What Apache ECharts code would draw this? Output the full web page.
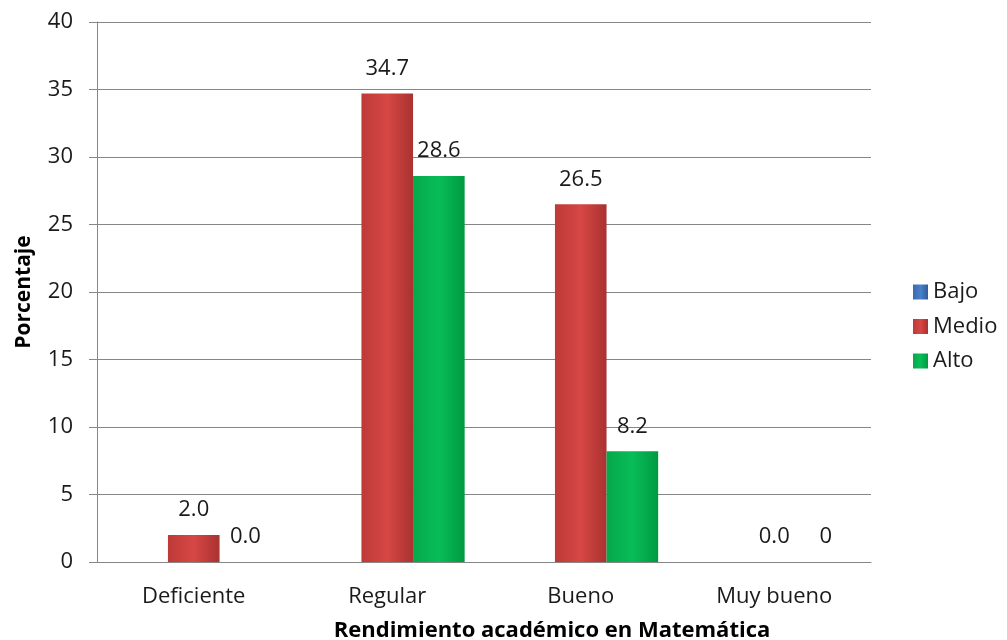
<!DOCTYPE html>
<html>
<head>
<meta charset="utf-8">
<script src="https://cdn.jsdelivr.net/npm/echarts@6/dist/echarts.min.js"></script>
<style>
html,body{margin:0;padding:0;background:#fff;}
#chart{width:1007px;height:640px;}
</style>
</head>
<body>
<div id="chart"></div>
<script>
const categories = ['Deficiente', 'Regular', 'Bueno', 'Muy bueno'];
const seriesNames = ['Bajo', 'Medio', 'Alto'];
const bajoValues = [null, null, null, null];
const medioValues = [2.0, 34.7, 26.5, 0.0];
const altoValues = [0.0, 28.6, 8.2, 0];
const medioLabels = ['2.0', '34.7', '26.5', '0.0'];
const altoLabels = ['0.0', '28.6', '8.2', '0'];
const yTicks = [0, 5, 10, 15, 20, 25, 30, 35, 40];

const FONT = 'Open Sans';

function grad(c1, c2, c3) {
  return new echarts.graphic.LinearGradient(0, 0, 1, 0, [
    {offset: 0, color: c1}, {offset: 0.5, color: c2}, {offset: 1, color: c3}
  ]);
}

const chart = echarts.init(document.getElementById('chart'), null, {renderer: 'canvas'});

const labelStyle = (texts) => ({
  show: true,
  position: 'top',
  distance: 14,
  fontFamily: FONT,
  fontSize: 22,
  color: '#1a1a1a',
  formatter: p => texts[p.dataIndex]
});

chart.setOption({
  animation: false,
  textStyle: {fontFamily: FONT},
  grid: {left: 97, right: 136, top: 22, bottom: 78, containLabel: false, outerBoundsMode: 'none'},
  legend: {
    orient: 'vertical',
    left: 913,
    top: 281,
    padding: 0,
    itemWidth: 15,
    itemHeight: 15,
    itemGap: 12.5,
    icon: 'rect',
    textStyle: {fontFamily: FONT, fontSize: 22, color: '#1a1a1a'},
    data: seriesNames
  },
  xAxis: {
    type: 'category',
    data: categories,
    name: 'Rendimiento académico en Matemática',
    nameLocation: 'middle',
    nameGap: 58,
    nameTextStyle: {fontFamily: FONT, fontSize: 22, fontWeight: 'bold', color: '#000', padding: [0, 0, 0, 136]},
    axisLine: {show: true, lineStyle: {color: '#868686', width: 1}},
    axisTick: {show: false},
    axisLabel: {fontFamily: FONT, fontSize: 22, color: '#1a1a1a', margin: 24}
  },
  yAxis: {
    type: 'value',
    min: yTicks[0],
    max: yTicks[yTicks.length - 1],
    interval: 5,
    name: 'Porcentaje',
    nameLocation: 'middle',
    nameGap: 62,
    nameTextStyle: {fontFamily: FONT, fontSize: 21, fontWeight: 'bold', color: '#000'},
    axisLine: {show: true, lineStyle: {color: '#868686', width: 1}},
    axisTick: {show: true, length: 8, inside: false, lineStyle: {color: '#868686'}},
    axisLabel: {fontFamily: FONT, fontSize: 22, color: '#1a1a1a', margin: 24},
    splitLine: {show: true, lineStyle: {color: '#868686', width: 1}}
  },
  series: [
    {
      name: 'Bajo',
      type: 'bar',
      data: bajoValues,
      barGap: '0%',
      barCategoryGap: '20%',
      itemStyle: {color: grad('#3a6bb0', '#4a80c6', '#2f5c9c')}
    },
    {
      name: 'Medio',
      type: 'bar',
      data: medioValues,
      barGap: '0%',
      barCategoryGap: '20%',
      itemStyle: {color: grad('#bd3a37', '#d64745', '#a93230')},
      label: labelStyle(medioLabels)
    },
    {
      name: 'Alto',
      type: 'bar',
      data: altoValues,
      barGap: '0%',
      barCategoryGap: '20%',
      itemStyle: {color: grad('#05a84a', '#08bd58', '#009a40')},
      label: labelStyle(altoLabels)
    }
  ]
});
</script>
</body>
</html>
